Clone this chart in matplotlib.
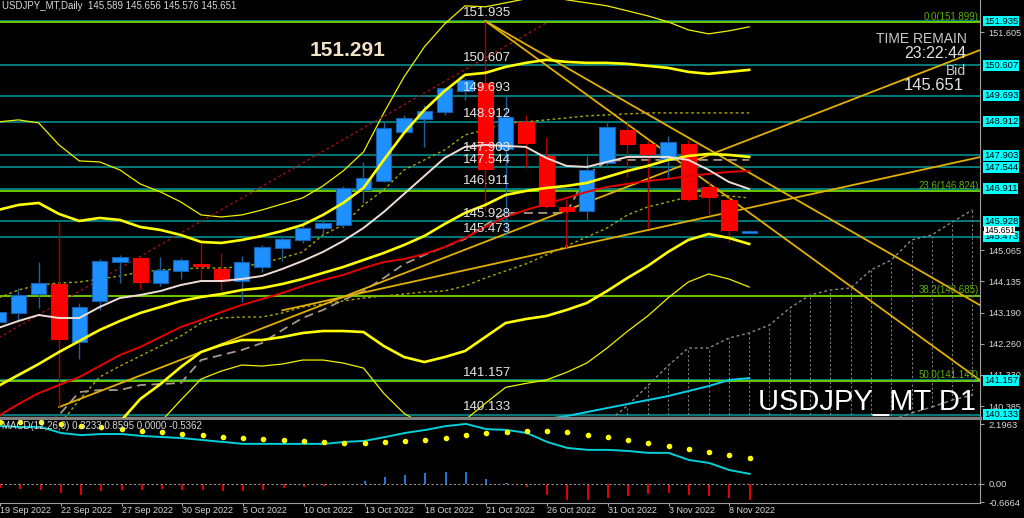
import numpy as np
import matplotlib.pyplot as plt
import matplotlib.transforms as mtransforms

plt.rcParams['font.family'] = ['Liberation Sans', 'DejaVu Sans']

# USDJPY_MT daily candles, 19 Sep 2022 .. 9 Nov 2022
opens  = [142.91, 143.18, 143.75, 144.05, 142.31, 143.54, 144.71, 144.83, 144.08, 144.44,
          144.65, 144.50, 144.14, 144.56, 145.13, 145.37, 145.73, 145.82, 146.87, 147.14,
          148.61, 148.99, 149.21, 149.84, 150.08, 148.10, 148.91, 147.89, 146.36, 146.24,
          147.68, 148.67, 148.25, 147.80, 148.25, 146.96, 146.57, 145.589]
highs  = [143.40, 143.93, 144.71, 145.90, 143.48, 144.80, 144.92, 144.86, 144.86, 144.83,
          145.28, 144.98, 144.89, 145.22, 145.46, 145.85, 146.00, 146.99, 147.71, 148.91,
          149.12, 149.42, 149.96, 150.23, 151.935, 149.69, 149.12, 148.46, 146.60, 147.89,
          148.88, 148.88, 148.37, 148.49, 148.37, 147.14, 146.66, 145.656]
lows   = [142.85, 142.97, 143.33, 140.36, 141.80, 143.27, 144.08, 143.90, 144.00, 144.20,
          144.14, 143.87, 143.51, 144.41, 144.74, 145.28, 145.46, 145.73, 146.48, 147.11,
          148.58, 148.16, 149.12, 149.57, 146.27, 145.49, 147.53, 146.33, 145.13, 145.97,
          147.62, 147.26, 145.73, 147.20, 146.55, 146.12, 145.31, 145.576]
closes = [143.20, 143.72, 144.08, 142.40, 143.36, 144.74, 144.86, 144.11, 144.47, 144.77,
          144.59, 144.14, 144.71, 145.16, 145.40, 145.73, 145.88, 146.93, 147.23, 148.73,
          149.03, 149.24, 149.93, 150.17, 147.50, 149.06, 148.28, 146.39, 146.24, 147.47,
          148.76, 148.25, 147.95, 148.31, 146.60, 146.66, 145.67, 145.651]

tick_bars = [0, 3, 6, 9, 12, 15, 18, 21, 24, 27, 30, 33, 36]
tick_labels = ['19 Sep 2022', '22 Sep 2022', '27 Sep 2022', '30 Sep 2022', '5 Oct 2022',
               '10 Oct 2022', '13 Oct 2022', '18 Oct 2022', '21 Oct 2022', '26 Oct 2022',
               '31 Oct 2022', '3 Nov 2022', '8 Nov 2022']

# indicator lines
ma_fast = [142.73, 142.94, 143.12, 143.03, 143.03, 143.36, 143.63, 143.72, 143.84, 144.02,
           144.14, 144.14, 144.20, 144.29, 144.50, 144.74, 145.01, 145.34, 145.73, 146.21,
           146.75, 147.29, 147.83, 148.16, 148.22, 148.19, 148.16, 147.83, 147.59, 147.56,
           147.71, 147.86, 147.86, 147.86, 147.77, 147.47, 147.11, 146.90]
ma_slow = [140.09, 140.45, 140.78, 141.02, 141.26, 141.59, 141.92, 142.16, 142.46, 142.76,
           142.97, 143.21, 143.42, 143.60, 143.78, 143.99, 144.17, 144.32, 144.53, 144.71,
           144.80, 144.95, 145.16, 145.43, 145.76, 146.06, 146.27, 146.45, 146.63, 146.81,
           146.96, 147.05, 147.14, 147.20, 147.29, 147.35, 147.41, 147.44]
bb_mid = [140.99, 141.32, 141.65, 142.01, 142.34, 142.67, 142.94, 143.18, 143.36, 143.54,
          143.66, 143.75, 143.87, 143.93, 144.05, 144.20, 144.38, 144.56, 144.77, 144.98,
          145.22, 145.49, 145.85, 146.18, 146.42, 146.72, 146.84, 146.93, 146.99, 147.08,
          147.26, 147.44, 147.59, 147.77, 147.89, 147.95, 147.92, 147.86]
bb_up = [146.27, 146.42, 146.48, 146.15, 145.94, 146.03, 145.97, 145.76, 145.67, 145.52,
         145.31, 145.28, 145.37, 145.49, 145.64, 145.82, 146.12, 146.48, 146.93, 147.77,
         148.58, 149.27, 149.84, 150.32, 150.38, 150.56, 150.68, 150.77, 150.71, 150.68,
         150.68, 150.65, 150.59, 150.53, 150.41, 150.35, 150.41, 150.47]
bb_low = [135.70, 136.22, 136.82, 137.87, 138.74, 139.31, 139.91, 140.60, 141.05, 141.56,
          142.01, 142.22, 142.37, 142.37, 142.46, 142.58, 142.64, 142.64, 142.61, 142.19,
          141.86, 141.71, 141.86, 142.04, 142.46, 142.88, 143.00, 143.09, 143.27, 143.48,
          143.84, 144.23, 144.59, 145.01, 145.37, 145.55, 145.43, 145.25]
bb3_up = [148.91, 148.97, 148.88, 148.22, 147.74, 147.71, 147.47, 147.05, 146.81, 146.51,
          146.12, 146.06, 146.12, 146.27, 146.45, 146.63, 146.99, 147.44, 148.01, 149.18,
          150.26, 151.16, 151.85, 152.39, 152.36, 152.48, 152.60, 152.69, 152.57, 152.48,
          152.39, 152.24, 152.09, 151.91, 151.67, 151.55, 151.64, 151.76]
bb3_low = [133.07, 133.67, 134.42, 135.80, 136.93, 137.63, 138.40, 139.30, 139.91, 140.57,
           141.20, 141.44, 141.62, 141.59, 141.65, 141.77, 141.77, 141.68, 141.53, 140.77,
           140.17, 139.82, 139.85, 139.97, 140.47, 140.95, 141.07, 141.17, 141.40, 141.68,
           142.13, 142.63, 143.09, 143.63, 144.11, 144.35, 144.20, 143.96]
olive_up = [143.63, 143.87, 144.02, 144.08, 144.11, 144.20, 144.29, 144.41, 144.47, 144.50,
            144.53, 144.53, 144.56, 144.68, 144.83, 145.01, 145.52, 145.82, 146.42, 146.87,
            147.47, 147.77, 148.07, 148.52, 148.67, 148.88, 148.91, 148.97, 149.03, 149.09,
            149.12, 149.15, 149.18, 149.18, 149.18, 149.18, 149.18, 149.18]
olive_low = [138.47, 138.92, 139.37, 139.82, 140.57, 141.26, 141.59, 141.89, 142.19, 142.49,
             142.88, 143.03, 143.06, 143.06, 143.18, 143.36, 143.45, 143.54, 143.63, 143.69,
             143.75, 143.81, 143.84, 143.99, 144.23, 144.44, 144.65, 144.92, 145.19, 145.46,
             145.73, 146.12, 146.36, 146.51, 146.66, 146.72, 146.69, 146.63]
kijun_bars = list(range(2, 38))
kijun = [139.61, 140.12, 140.81, 140.87, 140.87, 141.02, 141.05, 141.08, 141.77, 141.92,
         142.07, 142.28, 142.67, 143.03, 143.27, 143.57, 143.84, 144.23, 144.65, 144.92,
         145.16, 145.40, 145.82, 146.18, 146.18, 146.18, 146.18, 147.32, 147.74, 147.77,
         147.77, 147.77, 147.77, 147.77, 147.77, 147.77]
cyan_bars = list(range(27, 38))
cyan_line = [140.00, 140.09, 140.21, 140.33, 140.45, 140.57, 140.69, 140.84, 140.99, 141.17, 141.23]
cloud_bars = list(range(30, 49))
cloud_top = [139.90, 140.40, 141.00, 141.60, 142.13, 142.13, 142.43, 142.58, 142.82, 143.33,
             143.72, 143.87, 143.93, 144.47, 144.77, 145.37, 145.52, 145.91, 146.27]
span_b_bars = [44, 45, 46, 47, 48]
span_b = [139.97, 140.18, 140.36, 140.57, 140.72]

# trend lines: (bar, price) anchors
trend_lines = [([24, 48.37], [151.935, 141.165]),
               ([24, 48.37], [151.935, 143.415]),
               ([14, 48.37], [143.26, 147.855]),
               ([3, 48.37], [140.36, 151.065])]
red_dotted = ([0, 27], [142.43, 151.875])

levels = [151.935, 150.607, 149.693, 148.912, 147.903, 147.544, 146.911, 145.928, 145.473,
          141.157, 140.133]
fib_names = ['0.0', '23.6', '38.2', '50.0']
fib_prices = [151.899, 146.824, 143.685, 141.147]
axis_ticks = [151.605, 145.065, 144.135, 143.190, 142.260, 141.330, 140.385]

macd_line = [2.12, 2.09, 2.09, 1.87, 1.79, 1.83, 1.83, 1.76, 1.72, 1.68,
             1.61, 1.54, 1.47, 1.47, 1.47, 1.47, 1.47, 1.54, 1.58, 1.72,
             1.87, 1.98, 2.12, 2.20, 2.01, 1.98, 1.87, 1.54, 1.32, 1.25,
             1.25, 1.21, 1.14, 1.14, 0.88, 0.77, 0.51, 0.37]
macd_dots = [2.27, 2.27, 2.27, 2.20, 2.12, 2.09, 2.01, 1.94, 1.90, 1.83,
             1.79, 1.72, 1.68, 1.65, 1.61, 1.58, 1.54, 1.50, 1.50, 1.54,
             1.58, 1.61, 1.68, 1.79, 1.87, 1.90, 1.94, 1.94, 1.90, 1.79,
             1.72, 1.61, 1.50, 1.39, 1.28, 1.17, 1.06, 0.95]
macd_hist = [-0.15, -0.18, -0.22, -0.33, -0.40, -0.26, -0.22, -0.22, -0.18, -0.22,
             -0.22, -0.26, -0.26, -0.22, -0.15, -0.11, -0.07, -0.02, 0.11, 0.26,
             0.33, 0.40, 0.44, 0.44, 0.18, 0.05, -0.11, -0.40, -0.59, -0.59,
             -0.51, -0.44, -0.37, -0.33, -0.40, -0.44, -0.51, -0.59]

idx = np.arange(len(opens))
o = np.array(opens); c = np.array(closes)
up = c >= o

W, H = 1024, 518
fig = plt.figure(figsize=(W / 100, H / 100), dpi=100, facecolor='black')
ax = fig.add_axes([0, 1 - 418 / H, 980 / W, 418 / H], facecolor='black')
ax2 = fig.add_axes([0, 15 / H, 980 / W, 83 / H], facecolor='black')

XL = (0.094, 48.37)
ax.set_xlim(*XL)
ax.set_ylim(140.032, 152.565)

teal = '#009a9a'
gold = '#e2b000'
yel = '#ffff00'

# horizontal levels
for lv in levels:
    ax.axhline(lv, color=teal, lw=1.1, zorder=1)
for fp in fib_prices:
    ax.axhline(fp, color='#6cc800', lw=1.4, zorder=1)

# ichimoku-like cloud hatching
bottoms = [span_b[span_b_bars.index(b)] if b in span_b_bars else 140.0 for b in cloud_bars]
ax.vlines(cloud_bars, bottoms, cloud_top, colors='#7a7a7a', linestyles=(0, (2, 2)), lw=0.8, zorder=1)
ax.plot(cloud_bars, cloud_top, color='#8a8a8a', ls=(0, (2, 2)), lw=1, zorder=1)
ax.plot(span_b_bars, span_b, color='#8a8a8a', ls=(0, (3, 2)), lw=1, zorder=1)

# bands and averages
ax.plot(idx, bb3_up, color='#f0f000', lw=0.9, zorder=2)
ax.plot(idx, bb3_low, color='#f0f000', lw=0.9, zorder=2)
ax.plot(idx, olive_up, color='#a8a800', lw=1, ls=(0, (2, 2)), zorder=2)
ax.plot(idx, olive_low, color='#a8a800', lw=1, ls=(0, (2, 2)), zorder=2)
ax.plot(kijun_bars, kijun, color='#a89888', lw=1.3, ls=(0, (5, 3)), zorder=2)
ax.plot(*red_dotted, color='#a01010', lw=1, ls=(0, (2, 2)), zorder=2)
ax.plot(cyan_bars, cyan_line, color='#00d0e8', lw=1.4, zorder=2)
for xs, ys in trend_lines:
    ax.plot(xs, ys, color=gold, lw=1.3, zorder=2)

# candles
wick_col = np.where(up, '#1f5f9f', '#b00000')
ax.vlines(idx, lows, highs, colors=wick_col, lw=1, zorder=3)
ax.bar(idx, np.abs(c - o), bottom=np.minimum(o, c), width=0.75,
       color=np.where(up, '#1e90ff', '#ff0000'),
       edgecolor=np.where(up, '#1460b0', '#ff0000'), lw=0.8, zorder=4)

ax.plot(idx, bb_up, color=yel, lw=1.9, zorder=5)
ax.plot(idx, bb_mid, color=yel, lw=1.9, zorder=5)
ax.plot(idx, bb_low, color=yel, lw=1.9, zorder=5)
ax.plot(idx, ma_slow, color='#e60000', lw=1.4, zorder=5)
ax.plot(idx, ma_fast, color='#f0ddd5', lw=1.4, zorder=5)

# level labels in the chart
for lv in levels:
    ax.text(22.9, lv + 0.05, f'{lv:.3f}', color='#e6e6e6', fontsize=9.5, va='bottom', ha='left', zorder=6)
for name, fp in zip(fib_names, fib_prices):
    ax.text(48.3, fp + 0.02, f'{name}({fp:.3f})', color='#5cb000', fontsize=7, va='bottom', ha='right', zorder=6)

# right axis
ax.yaxis.tick_right()
ax.set_yticks(axis_ticks)
ax.set_yticklabels([f'{t:.3f}' for t in axis_ticks])
ax.tick_params(axis='y', colors='#a0a0a0', labelcolor='#d8d8d8', labelsize=6.6, length=3, pad=3)
ax.set_xticks([])
for s in ['top', 'left']:
    ax.spines[s].set_visible(False)
ax.spines['right'].set_color('#a0a0a0')
ax.spines['bottom'].set_color('#808080')
ax.spines['bottom'].set_linewidth(2.5)

bt = mtransforms.blended_transform_factory(ax.transAxes, ax.transData)
for lv in levels:
    ax.text(1.004, lv, f'{lv:.3f}', transform=bt, color='black', fontsize=6.8, va='center', ha='left',
            bbox=dict(facecolor='#00ffff', edgecolor='none', pad=0.6), clip_on=False, zorder=10)
ax.text(1.004, closes[-1], f'{closes[-1]:.3f}', transform=bt, color='black', fontsize=6.2, va='center',
        ha='left', bbox=dict(facecolor='white', edgecolor='none', pad=0.2), clip_on=False, zorder=11)

# MACD panel
ax2.set_xlim(*XL)
ax2.set_ylim(-0.697, 2.344)
ax2.axhline(0, color='#909090', lw=0.8, ls=(0, (2, 2)))
ax2.bar(idx, macd_hist, width=0.1, color=np.where(np.array(macd_hist) >= 0, '#1e78d8', '#e00000'))
ax2.plot(idx, macd_line, color='#00d0d8', lw=1.4)
ax2.scatter(idx, macd_dots, s=9, color=yel, zorder=3)
ax2.yaxis.tick_right()
ax2.set_yticks([2.1963, 0.0, -0.6664])
ax2.set_yticklabels(['2.1963', '0.00', '-0.6664'])
ax2.tick_params(axis='y', colors='#a0a0a0', labelcolor='#d8d8d8', labelsize=6.8, length=3, pad=3)
ax2.set_xticks(tick_bars)
ax2.set_xticklabels(tick_labels, ha='left')
ax2.tick_params(axis='x', colors='#a0a0a0', labelcolor='#d8d8d8', labelsize=6.5, length=2, pad=0.5)
for s in ['top', 'left']:
    ax2.spines[s].set_visible(False)
ax2.spines['right'].set_color('#a0a0a0')
ax2.spines['bottom'].set_color('#a0a0a0')

# texts
def ftext(x, y, s, **kw):
    fig.text(x / W, 1 - y / H, s, **kw)

ftext(2, 6, 'USDJPY_MT,Daily  145.589 145.656 145.576 145.651', color='#d8d8d8', fontsize=7, va='center')
ftext(2, 426, 'MACD(12,26,9) 0.3233 0.8595 0.0000 -0.5362', color='#d8d8d8', fontsize=7, va='center')
ftext(310, 51, '151.291', color='#f2e2c6', fontsize=15, fontweight='bold', va='center')
ftext(967, 39, 'TIME REMAIN', color='#c8c8c8', fontsize=10, va='center', ha='right')
ftext(966, 53, '23:22:44', color='#e0e0e0', fontsize=11.5, va='center', ha='right')
ftext(966, 71, 'Bid', color='#c8c8c8', fontsize=10, va='center', ha='right')
ftext(964, 85, '145.651', color='#e0e0e0', fontsize=12, va='center', ha='right')
ftext(976, 402, 'USDJPY_MT D1', color='white', fontsize=21, va='center', ha='right')

fig.savefig('out.png', dpi=100, facecolor='black')
